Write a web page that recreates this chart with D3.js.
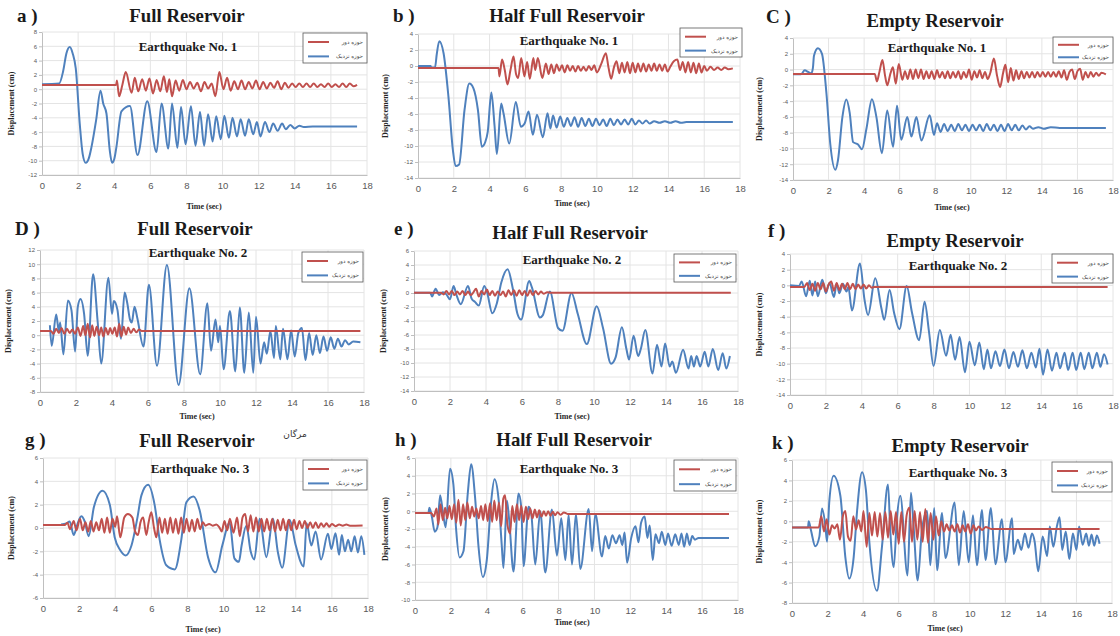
<!DOCTYPE html>
<html>
<head>
<meta charset="utf-8">
<script src="https://cdn.jsdelivr.net/npm/d3@7/dist/d3.min.js"></script>
<style>
  html, body { margin: 0; padding: 0; background: #ffffff; }
  svg { display: block; }
</style>
</head>
<body>
<svg id="chart" width="1120" height="636"></svg>
<script>
// Time axis ticks (s) shared by every panel
const timeTicks = [0, 2, 4, 6, 8, 10, 12, 14, 16, 18];
const seriesNames = ["حوزه دور", "حوزه نزدیک"];

// Displacement histories, [time (s), displacement (cm)]
// Earthquake No. 1
const farA = [[0,0.6],[4.1,0.6],[4.15,1.2],[4.27,-1.0],[4.45,0.6],[4.64,2.4],[4.96,-0.5],[5.14,1.6],[5.33,-0.3],[5.55,1.4],[5.75,-0.2],[5.95,1.5],[6.15,-0.6],[6.35,1.3],[6.55,-0.3],[6.75,1.8],[6.92,-0.4],[7.05,1.4],[7.2,-1.0],[7.4,1.2],[7.6,-0.2],[7.8,1.3],[8.0,0.0],[8.2,1.0],[8.4,0.1],[8.6,0.9],[8.8,-0.3],[9.0,1.0],[9.2,0.1],[9.4,0.8],[9.6,-1.0],[9.82,2.4],[10.05,0.0],[10.25,1.6],[10.45,-0.2],[10.65,1.1],[10.85,0.0],[11.05,1.2],[11.25,0.0],[11.45,1.0],[11.65,0.1],[11.85,1.2],[12.05,0.0],[12.25,1.0],[12.45,0.1],[12.65,0.9],[12.85,0.2],[13.05,1.1],[13.25,0.0],[13.45,0.9],[13.65,0.2],[13.85,0.8],[14.05,0.3],[14.25,0.8],[14.45,0.3],[14.65,0.8],[14.85,0.3],[15.05,0.8],[15.25,0.3],[15.45,0.7],[15.65,0.3],[15.85,0.8],[16.05,0.3],[16.25,0.7],[16.45,0.3],[16.65,0.8],[16.85,0.3],[17.05,0.8],[17.25,0.4],[17.45,0.6]];
const nearA = [[0,0.7],[0.95,0.8],[1.17,2.5],[1.35,5.0],[1.54,5.9],[1.7,5.0],[1.87,2.9],[2.09,-4.8],[2.25,-9.0],[2.42,-10.3],[2.6,-9.6],[2.74,-8.1],[3.0,-4.3],[3.24,-0.2],[3.39,-2.0],[3.57,-3.4],[3.75,-8.5],[3.88,-10.3],[4.0,-9.8],[4.12,-8.1],[4.4,-3.1],[4.87,-2.35],[5.29,-9.2],[5.83,-1.7],[6.34,-8.8],[6.62,-2.0],[7.0,-8.3],[7.2,-2.0],[7.5,-8.2],[7.7,-2.5],[7.95,-7.7],[8.25,-2.4],[8.5,-7.9],[8.75,-3.2],[8.98,-7.9],[9.2,-3.5],[9.45,-7.3],[9.65,-3.8],[9.9,-7.0],[10.1,-3.7],[10.35,-6.8],[10.55,-4.0],[10.8,-6.6],[11.0,-4.2],[11.25,-6.5],[11.45,-4.2],[11.7,-6.3],[11.9,-4.6],[12.1,-6.6],[12.35,-4.6],[12.6,-6.0],[12.8,-4.8],[13.05,-5.8],[13.3,-4.8],[13.5,-5.6],[13.75,-5.0],[14.0,-5.5],[14.25,-5.1],[14.5,-5.3],[15,-5.2],[17.45,-5.2]];
const farB = [[0,-0.25],[4.5,-0.25],[4.55,-1.3],[4.7,0.8],[4.85,-0.5],[5.0,-2.3],[5.17,-0.5],[5.34,1.2],[5.48,-1.0],[5.6,-1.5],[5.77,1.0],[5.95,-1.3],[6.1,0.5],[6.25,-1.6],[6.45,1.0],[6.55,-0.5],[6.7,1.0],[6.95,-1.5],[7.15,0.3],[7.3,-1.0],[7.45,0.2],[7.6,-0.9],[7.75,0.2],[7.9,-0.6],[8.05,0.1],[8.2,-0.8],[8.35,0.1],[8.5,-0.6],[8.65,0.0],[8.8,-0.7],[8.95,0.0],[9.1,-0.6],[9.25,-0.1],[9.4,-0.6],[9.55,0.0],[9.7,-0.5],[9.85,0.1],[10.0,-0.8],[10.25,0.3],[10.5,1.6],[10.65,-0.2],[10.8,-1.6],[10.95,-0.2],[11.1,0.6],[11.25,-0.9],[11.4,0.4],[11.55,-0.8],[11.7,0.5],[11.85,-0.9],[12.0,0.4],[12.15,-0.8],[12.3,0.3],[12.45,-0.7],[12.6,0.3],[12.75,-0.7],[12.9,0.2],[13.05,-0.6],[13.2,0.3],[13.35,-0.6],[13.5,0.2],[13.65,-0.6],[13.8,0.2],[13.95,-0.7],[14.1,-0.1],[14.3,0.6],[14.5,0.8],[14.65,-0.5],[14.8,0.5],[14.95,-0.8],[15.1,0.5],[15.25,-0.8],[15.4,0.4],[15.55,-0.9],[15.7,0.3],[15.85,-0.8],[16.0,0.0],[16.15,-0.6],[16.35,-0.1],[16.55,-0.5],[16.75,-0.2],[16.95,-0.5],[17.15,-0.2],[17.35,-0.4],[17.6,-0.3]];
const nearB = [[0,0],[0.7,0],[0.75,-0.2],[0.95,-0.2],[1.05,1.5],[1.19,3.1],[1.43,1.6],[1.7,-3.8],[1.95,-10.5],[2.1,-12.5],[2.3,-12.3],[2.6,-5.5],[2.87,-2.2],[3.1,-2.8],[3.35,-5.5],[3.57,-10.1],[3.76,-9.5],[3.9,-8.2],[4.1,-3.3],[4.28,-7.5],[4.41,-11.0],[4.65,-4.7],[4.78,-5.9],[5.1,-9.7],[5.47,-4.5],[5.75,-7.6],[5.96,-7.2],[6.18,-5.7],[6.42,-8.6],[6.65,-6.1],[6.98,-8.9],[7.24,-5.9],[7.4,-7.8],[7.55,-6.2],[7.75,-7.7],[7.95,-6.3],[8.15,-7.6],[8.35,-6.5],[8.55,-7.5],[8.75,-6.4],[8.95,-7.6],[9.15,-6.5],[9.35,-7.5],[9.55,-6.6],[9.75,-7.5],[9.95,-6.6],[10.15,-7.4],[10.35,-6.7],[10.55,-7.5],[10.75,-6.6],[10.95,-7.4],[11.15,-6.7],[11.35,-7.3],[11.55,-6.7],[11.75,-7.3],[11.95,-6.6],[12.15,-7.3],[12.35,-6.8],[12.55,-7.2],[12.75,-6.8],[12.95,-7.2],[13.2,-6.9],[13.5,-7.1],[13.8,-6.9],[14.1,-7.1],[14.4,-6.9],[14.7,-7.1],[15,-7.0],[17.6,-7.0]];
const farC = [[0,-0.55],[4.6,-0.55],[4.72,-1.5],[4.87,-0.2],[5.03,1.2],[5.18,-0.8],[5.3,-2.0],[5.48,-0.5],[5.62,0.3],[5.78,-1.8],[5.95,0.7],[6.15,-1.3],[6.3,-0.2],[6.45,-1.2],[6.6,0.0],[6.75,-1.2],[6.9,0.0],[7.05,-1.1],[7.2,0.0],[7.35,-1.2],[7.5,-0.2],[7.65,-1.1],[7.8,-0.2],[7.95,-1.2],[8.1,-0.1],[8.25,-1.0],[8.4,-0.3],[8.55,-1.1],[8.7,-0.2],[8.85,-1.1],[9.0,-0.3],[9.15,-1.0],[9.3,-0.2],[9.45,-1.2],[9.6,-0.3],[9.75,-1.0],[9.9,0.0],[10.05,-1.3],[10.2,-0.2],[10.35,-1.0],[10.5,-0.1],[10.65,-1.1],[10.8,-0.3],[10.95,-1.2],[11.1,-0.4],[11.3,1.4],[11.48,-0.8],[11.65,-2.2],[11.82,-0.4],[11.95,0.6],[12.1,-1.6],[12.25,0.2],[12.4,-1.4],[12.55,-0.1],[12.7,-1.2],[12.85,-0.2],[13.0,-1.1],[13.15,-0.3],[13.3,-1.0],[13.45,-0.3],[13.6,-1.0],[13.75,-0.3],[13.9,-0.9],[14.05,-0.3],[14.2,-0.9],[14.35,-0.3],[14.5,-0.9],[14.65,-0.3],[14.8,-0.9],[14.95,-0.2],[15.1,-1.0],[15.25,-0.1],[15.4,-1.3],[15.55,-0.3],[15.7,0.0],[15.85,-1.2],[16.0,-0.2],[16.15,0.1],[16.3,-1.3],[16.45,-0.3],[16.6,-1.0],[16.75,-0.3],[16.9,-0.9],[17.05,-0.4],[17.2,-0.8],[17.35,-0.4],[17.6,-0.6]];
const nearC = [[0,-0.6],[0.45,-0.6],[0.66,-0.1],[0.85,-0.3],[1.03,-0.5],[1.12,0.2],[1.18,1.75],[1.4,2.7],[1.63,2.0],[1.88,-3.0],[2.1,-9.5],[2.38,-12.7],[2.53,-11.5],[2.78,-6.0],[3.0,-3.8],[3.19,-5.5],[3.38,-9.2],[3.66,-9.5],[3.88,-10.1],[4.13,-7.5],[4.44,-3.75],[4.69,-6.0],[5.0,-10.6],[5.3,-5.2],[5.63,-9.8],[5.85,-4.6],[6.09,-8.9],[6.43,-6.0],[6.66,-8.5],[6.94,-6.0],[7.22,-9.0],[7.69,-5.8],[7.93,-8.3],[8.1,-6.8],[8.3,-7.9],[8.5,-6.9],[8.7,-7.8],[8.9,-7.0],[9.1,-7.8],[9.3,-6.9],[9.5,-7.7],[9.7,-7.0],[9.9,-7.8],[10.1,-7.0],[10.3,-7.7],[10.5,-7.0],[10.7,-7.8],[10.9,-6.9],[11.1,-7.7],[11.3,-7.0],[11.5,-7.8],[11.7,-7.0],[11.9,-7.8],[12.1,-6.9],[12.3,-7.7],[12.5,-7.0],[12.7,-7.7],[12.9,-7.1],[13.1,-7.6],[13.3,-7.2],[13.5,-7.5],[13.8,-7.3],[14.1,-7.5],[14.5,-7.3],[15,-7.4],[17.6,-7.4]];

// Earthquake No. 2
const farD = [[0,0.6],[0.6,0.6],[0.75,0.2],[0.9,0.9],[1.05,0.3],[1.2,1.0],[1.35,0.2],[1.5,0.9],[1.65,0.3],[1.8,0.8],[1.95,0.2],[2.1,1.1],[2.25,-0.1],[2.4,1.3],[2.52,0.0],[2.65,1.6],[2.78,-0.3],[2.9,1.4],[3.02,-0.1],[3.15,1.2],[3.28,0.0],[3.4,1.1],[3.52,-0.2],[3.65,1.0],[3.78,0.1],[3.9,1.0],[4.02,0.2],[4.15,1.1],[4.28,-0.2],[4.4,1.6],[4.52,-0.2],[4.65,1.2],[4.78,0.1],[4.9,1.1],[5.05,0.3],[5.2,0.9],[5.35,0.4],[5.5,0.8],[5.65,0.6],[17.8,0.6]];
const nearD = [[0.55,1.4],[0.65,-1.5],[0.9,2.9],[1.05,0.5],[1.12,1.8],[1.3,-2.7],[1.55,4.9],[1.75,3.5],[1.95,-2.3],[2.1,4.0],[2.25,5.1],[2.45,3.0],[2.65,-2.9],[2.95,8.6],[3.2,2.0],[3.4,-4.0],[3.8,8.1],[4.0,3.0],[4.1,4.8],[4.3,3.6],[4.5,-0.5],[4.7,6.0],[4.85,4.5],[5.0,2.2],[5.1,1.8],[5.25,4.0],[5.4,2.5],[5.75,-1.6],[6.05,7.1],[6.5,-4.3],[7.05,9.9],[7.7,-7.0],[8.3,6.6],[8.9,-5.5],[9.3,4.5],[9.5,-2.2],[9.75,2.2],[9.9,-1.0],[10.0,1.3],[10.2,-4.8],[10.55,3.4],[10.85,-5.1],[11.1,3.9],[11.35,-5.3],[11.6,3.2],[11.85,-5.3],[12.0,2.6],[12.25,-4.0],[12.45,-1.0],[12.6,-2.6],[12.8,0.6],[13.0,-3.2],[13.1,1.3],[13.35,-3.4],[13.5,0.9],[13.75,-3.4],[13.95,0.7],[14.15,-3.0],[14.35,0.3],[14.55,1.0],[14.75,-3.5],[14.95,0.3],[15.15,-2.8],[15.35,0.0],[15.55,-2.5],[15.75,-0.2],[15.95,-2.2],[16.15,-0.3],[16.35,-1.9],[16.55,-0.5],[16.75,-1.6],[16.95,-0.7],[17.15,-1.3],[17.4,-0.9],[17.8,-1.0]];
const farE = [[0,0.05],[1.5,0.05],[1.65,-0.2],[1.8,0.3],[1.95,-0.2],[2.1,0.3],[2.25,-0.3],[2.4,0.2],[2.55,-0.2],[2.7,0.3],[2.85,-0.3],[3.0,0.2],[3.15,-0.3],[3.3,0.1],[3.45,0.6],[3.6,-0.5],[3.75,0.3],[3.9,-0.2],[4.05,0.5],[4.2,-0.3],[4.35,0.3],[4.5,-0.4],[4.65,0.2],[4.8,-0.3],[4.95,0.2],[5.1,-0.5],[5.25,0.4],[5.4,-0.3],[5.55,0.4],[5.7,-0.4],[5.85,0.4],[6.0,-0.3],[6.15,0.3],[6.3,-0.4],[6.45,0.4],[6.6,-0.3],[6.75,0.3],[6.9,-0.2],[7.05,0.2],[7.2,-0.1],[7.4,0.1],[7.6,0.05],[17.6,0.05]];
const nearE = [[0,0.05],[0.9,0.05],[1.0,-0.5],[1.2,0.6],[1.4,-0.3],[1.6,0.1],[1.8,-0.2],[2.0,-0.9],[2.2,1.0],[2.35,-0.2],[2.6,-1.6],[3.0,1.0],[3.2,-0.8],[3.4,-1.3],[3.6,-1.8],[3.9,1.0],[4.05,0.2],[4.35,-2.9],[4.6,-1.5],[4.85,1.5],[5.2,3.4],[5.5,0.5],[5.75,-3.0],[5.95,-3.8],[6.4,1.7],[6.55,0.8],[7.0,-3.5],[7.15,-3.2],[7.55,0.2],[8.0,-5.0],[8.25,-5.4],[8.75,0.0],[9.1,-3.0],[9.6,-7.3],[10.15,-1.9],[10.5,-5.0],[10.95,-10.1],[11.2,-9.2],[11.55,-4.9],[11.8,-8.0],[11.95,-9.5],[12.2,-6.1],[12.45,-9.0],[12.6,-8.0],[12.85,-5.3],[13.25,-11.5],[13.5,-7.4],[13.75,-10.5],[13.95,-7.2],[14.2,-10.5],[14.35,-9.8],[14.55,-11.4],[14.95,-8.1],[15.25,-10.8],[15.4,-9.0],[15.55,-10.5],[15.7,-9.0],[15.9,-10.5],[16.15,-8.4],[16.35,-10.5],[16.6,-8.0],[16.9,-11.0],[17.15,-8.6],[17.35,-10.8],[17.55,-9.0]];
const farF = [[0,-0.2],[0.8,-0.2],[0.95,0.3],[1.1,-0.6],[1.25,0.2],[1.4,-0.7],[1.55,0.3],[1.7,-0.5],[1.85,0.3],[2.0,-0.8],[2.15,0.1],[2.3,0.5],[2.45,-0.7],[2.6,0.3],[2.75,-0.6],[2.9,0.2],[3.05,-0.5],[3.2,0.3],[3.35,-0.5],[3.5,0.2],[3.65,-0.5],[3.8,0.1],[3.95,-0.4],[4.1,0.1],[4.25,-0.4],[4.4,0.0],[4.55,-0.3],[4.7,-0.2],[17.7,-0.2]];
const nearF = [[0,0],[0.5,-0.1],[0.65,0.5],[0.9,-1.4],[1.1,0.6],[1.25,-1.3],[1.4,0.5],[1.55,-1.4],[1.8,0.7],[2.0,-1.0],[2.2,0.3],[2.45,-1.5],[2.6,0.2],[2.75,-1.0],[2.95,0.2],[3.15,-0.8],[3.25,-0.2],[3.45,-3.2],[3.9,2.8],[4.15,-1.8],[4.35,-3.8],[4.75,0.9],[5.1,-3.0],[5.25,-4.4],[5.55,-0.6],[5.8,-3.5],[6.1,-5.6],[6.5,-0.1],[6.8,-3.5],[7.2,-7.0],[7.5,-2.1],[7.75,-6.0],[8.0,-10.3],[8.35,-5.7],[8.7,-9.0],[8.95,-6.3],[9.2,-9.5],[9.45,-6.6],[9.75,-11.1],[10.0,-7.2],[10.3,-10.2],[10.55,-7.3],[10.8,-10.7],[11.0,-8.2],[11.2,-10.6],[11.45,-8.4],[11.7,-10.3],[11.95,-8.2],[12.2,-10.6],[12.45,-8.5],[12.7,-10.4],[12.95,-8.3],[13.2,-10.6],[13.45,-8.6],[13.7,-10.5],[13.9,-8.1],[14.1,-11.4],[14.35,-8.2],[14.6,-10.9],[14.85,-8.6],[15.05,-10.6],[15.3,-8.6],[15.5,-10.8],[15.75,-8.6],[15.95,-10.8],[16.2,-8.6],[16.4,-10.7],[16.65,-8.6],[16.85,-10.6],[17.1,-8.6],[17.3,-10.4],[17.5,-8.8],[17.7,-10.1]];

// Earthquake No. 3
const farG = [[0,0.25],[1.2,0.25],[1.35,0.45],[1.5,-0.1],[1.7,0.6],[1.85,-0.2],[2.05,0.8],[2.2,-0.2],[2.35,0.5],[2.5,-0.3],[2.65,0.6],[2.8,-0.3],[2.95,0.5],[3.1,-0.2],[3.25,0.8],[3.4,-0.4],[3.55,0.9],[3.7,-0.4],[3.85,0.8],[4.0,0.1],[4.1,1.0],[4.28,-0.8],[4.5,0.9],[4.7,1.2],[4.95,0.9],[5.1,-0.3],[5.26,-0.6],[5.4,0.5],[5.55,0.9],[5.72,-0.6],[5.85,0.5],[6.0,1.35],[6.15,0.0],[6.28,-0.8],[6.45,0.9],[6.6,-0.4],[6.75,0.8],[6.9,-0.5],[7.05,0.9],[7.2,-0.4],[7.35,0.8],[7.5,-0.5],[7.65,0.9],[7.8,-0.4],[7.95,0.8],[8.1,-0.3],[8.25,0.7],[8.4,-0.3],[8.55,0.8],[8.7,-0.1],[8.85,0.5],[9.0,0.2],[9.2,0.35],[9.4,0.2],[9.6,0.3],[9.75,0.1],[9.9,-0.3],[10.05,0.6],[10.2,-0.2],[10.35,0.8],[10.55,-0.4],[10.75,0.9],[10.9,-0.7],[11.05,0.9],[11.2,1.2],[11.35,-0.3],[11.5,1.1],[11.65,-0.3],[11.8,0.9],[11.95,-0.3],[12.1,0.8],[12.25,-0.3],[12.4,0.8],[12.55,-0.2],[12.7,0.8],[12.85,-0.3],[13.0,0.7],[13.15,-0.2],[13.3,0.8],[13.45,-0.2],[13.6,0.7],[13.75,-0.2],[13.9,0.7],[14.05,-0.1],[14.2,0.6],[14.35,0.0],[14.5,0.6],[14.65,0.0],[14.8,0.5],[14.95,0.0],[15.1,0.5],[15.25,0.0],[15.4,0.4],[15.55,0.1],[15.7,0.4],[15.85,0.1],[16.0,0.35],[16.2,0.15],[16.4,0.3],[16.6,0.2],[16.8,0.3],[17.0,0.2],[17.7,0.22]];
const nearG = [[1.0,0.3],[1.3,0.4],[1.48,0.55],[1.7,-0.6],[1.9,0.3],[2.12,1.0],[2.3,0.6],[2.53,-0.7],[2.82,1.8],[3.3,3.2],[3.7,2.0],[3.97,-0.8],[4.28,-1.9],[4.58,-2.35],[4.9,-1.5],[5.22,0.8],[5.45,2.8],[5.82,3.7],[6.18,2.0],[6.46,-1.0],[6.83,-3.2],[7.3,-3.55],[7.66,-1.0],[7.94,2.2],[8.34,2.7],[8.68,1.5],[9.14,-2.5],[9.56,-3.8],[9.93,-1.5],[10.34,0.45],[10.6,-2.6],[10.85,-2.9],[11.0,-1.5],[11.26,0.2],[11.5,-2.0],[11.7,-2.7],[12.0,0.8],[12.37,-2.5],[12.74,0.8],[13.0,-2.0],[13.25,-3.4],[13.66,0.7],[14.0,-1.5],[14.44,-3.3],[14.6,0.4],[14.86,-1.5],[15.1,-0.3],[15.4,-2.7],[15.78,-0.5],[15.97,-1.8],[16.2,-0.45],[16.4,-2.3],[16.55,-0.6],[16.72,-2.0],[16.9,-1.0],[17.07,-2.0],[17.26,-0.7],[17.44,-2.1],[17.63,-0.7],[17.8,-2.3]];
const farH = [[0,-0.2],[0.9,-0.2],[1.05,-0.6],[1.2,0.3],[1.3,-1.5],[1.42,0.8],[1.55,-1.0],[1.68,0.4],[1.8,-0.8],[1.92,0.6],[2.05,-0.9],[2.18,0.8],[2.3,-1.3],[2.42,1.3],[2.55,-1.6],[2.68,0.8],[2.8,-1.0],[2.92,1.0],[3.05,-0.8],[3.18,0.5],[3.3,-0.6],[3.42,0.3],[3.55,-0.8],[3.68,0.6],[3.8,-1.0],[3.92,0.8],[4.05,-1.1],[4.18,0.9],[4.3,-1.2],[4.42,1.2],[4.55,-1.0],[4.68,1.0],[4.8,-1.7],[4.92,1.4],[5.02,1.8],[5.15,-1.5],[5.3,-2.5],[5.42,0.6],[5.55,-1.2],[5.68,0.8],[5.8,-1.0],[5.92,0.6],[6.05,-1.2],[6.18,0.5],[6.3,-0.9],[6.42,0.3],[6.55,-0.8],[6.68,0.2],[6.8,-0.7],[6.92,0.1],[7.05,-0.6],[7.18,0.0],[7.3,-0.5],[7.42,0.0],[7.55,-0.5],[7.68,-0.05],[7.8,-0.45],[7.95,-0.1],[8.1,-0.4],[8.3,-0.15],[8.5,-0.3],[17.5,-0.3]];
const nearH = [[0,-0.2],[0.75,-0.2],[0.8,0.4],[0.93,-0.5],[1.1,-2.3],[1.25,-1.8],[1.4,1.8],[1.58,-0.5],[1.71,-1.8],[1.95,4.8],[2.14,3.0],[2.29,-2.0],[2.48,-5.2],[2.7,-4.5],[2.94,2.0],[3.13,5.3],[3.35,1.5],[3.54,-4.0],[3.78,-7.4],[4.0,-5.5],[4.24,1.0],[4.43,3.6],[4.65,1.5],[4.84,-4.0],[4.93,-6.4],[5.12,1.2],[5.25,-1.0],[5.49,-6.8],[5.77,2.0],[5.92,0.5],[6.05,-6.2],[6.33,0.5],[6.48,-0.3],[6.7,-6.0],[6.98,0.0],[7.26,-6.9],[7.63,0.2],[7.91,-5.0],[8.15,-0.8],[8.38,-5.5],[8.56,-0.4],[8.75,-6.0],[8.97,-0.3],[9.21,-6.5],[9.68,0.25],[9.87,-4.5],[10.05,-0.3],[10.42,-5.1],[10.6,-2.8],[10.8,-4.2],[11.0,-2.7],[11.2,-3.6],[11.4,-2.7],[11.55,-3.8],[11.68,-2.4],[11.82,-5.8],[12.05,-3.0],[12.29,-1.7],[12.45,-3.5],[12.6,-1.3],[12.8,-0.6],[12.95,-3.0],[13.08,-1.6],[13.25,-5.5],[13.4,-2.6],[13.6,-3.6],[13.75,-2.3],[13.95,-3.8],[14.1,-2.5],[14.3,-3.9],[14.5,-2.6],[14.7,-3.8],[14.85,-2.5],[15.0,-4.0],[15.15,-2.5],[15.3,-3.8],[15.45,-2.8],[15.6,-3.2],[15.8,-3.0],[17.5,-3.0]];
const farK = [[0,-0.6],[1.5,-0.6],[1.65,0.5],[1.8,-1.0],[1.95,0.2],[2.1,-1.3],[2.25,-0.4],[2.4,-0.7],[2.55,-0.3],[2.7,-1.8],[2.85,0.4],[3.0,1.0],[3.15,-1.5],[3.3,-1.9],[3.45,0.5],[3.6,-0.8],[3.75,0.1],[3.9,-1.0],[4.02,1.0],[4.2,-2.5],[4.35,0.8],[4.5,-1.4],[4.65,0.9],[4.8,-1.5],[4.95,0.8],[5.1,-1.8],[5.25,0.9],[5.4,-1.6],[5.55,1.0],[5.7,-1.3],[5.85,0.9],[6.0,-2.2],[6.15,0.9],[6.3,-2.0],[6.45,0.6],[6.6,1.35],[6.75,-2.0],[6.9,1.0],[7.05,-1.8],[7.2,0.9],[7.35,-2.0],[7.5,1.2],[7.65,-2.1],[7.8,0.8],[7.95,-1.8],[8.1,0.5],[8.25,-1.4],[8.4,0.0],[8.55,-1.0],[8.7,-0.3],[8.85,-0.9],[9.0,-0.4],[9.15,-1.0],[9.3,-0.3],[9.45,-1.1],[9.6,-0.4],[9.75,-1.0],[9.9,-0.3],[10.05,-1.2],[10.2,-0.4],[10.35,-0.9],[10.5,-0.5],[10.7,-0.85],[10.9,-0.55],[11.2,-0.75],[17.3,-0.75]];
const nearK = [[0,-0.6],[0.9,-0.6],[0.94,0.0],[1.07,-0.9],[1.31,-2.45],[1.54,-1.5],[1.69,1.25],[1.88,-0.5],[1.97,-2.0],[2.1,2.0],[2.34,4.45],[2.72,2.5],[3.0,-3.5],[3.22,-5.6],[3.47,-3.5],[3.66,1.0],[3.94,4.8],[4.16,3.0],[4.35,-2.0],[4.78,-6.8],[5.06,-2.5],[5.4,3.6],[5.53,-1.0],[5.72,-4.5],[5.9,0.3],[6.09,2.5],[6.5,-5.3],[6.69,2.8],[6.84,-0.5],[7.07,-5.8],[7.3,-1.0],[7.6,1.0],[7.78,-4.3],[8.0,1.3],[8.16,-4.8],[8.44,0.8],[8.63,-3.6],[9.15,1.85],[9.38,-4.3],[9.66,1.0],[9.94,-4.0],[10.18,0.6],[10.4,-4.3],[10.69,1.1],[10.88,-3.8],[11.19,1.3],[11.44,-4.2],[11.81,0.2],[12.0,-4.0],[12.38,0.3],[12.47,-3.2],[12.7,-1.8],[12.9,-2.8],[13.1,-1.2],[13.3,-2.6],[13.5,-1.2],[13.65,-2.0],[13.85,-4.9],[14.1,-1.5],[14.35,-3.4],[14.5,-0.5],[14.7,-2.5],[14.9,-0.5],[15.05,0.4],[15.2,-2.8],[15.4,-1.0],[15.6,-3.7],[15.8,-1.2],[16.0,-2.8],[16.15,-0.5],[16.35,-2.3],[16.55,-1.2],[16.7,-2.4],[16.85,-1.3],[17.0,-2.4],[17.15,-1.4],[17.3,-2.2]];

// Panel layout: plot box [left, top, right, bottom] and label anchors
const panels = [
  {letter:"a )", title:"Full Reservoir", quake:"Earthquake No. 1", far:farA, near:nearA, y:[-12,8],
   box:[42,32,367,175], letterAt:[17,22], titleAt:[187,22], quakeAt:[188,51], legend:[303,33,64,30], xTitleAt:[204,209], yTitleX:14},
  {letter:"b )", title:"Half Full Reservoir", quake:"Earthquake No. 1", far:farB, near:nearB, y:[-14,4],
   box:[418,34,740,178], letterAt:[393,22], titleAt:[567,22], quakeAt:[569,45], legend:[680,28,62,29], xTitleAt:[572,206], yTitleX:388},
  {letter:"C )", title:"Empty Reservoir", quake:"Earthquake No. 1", far:farC, near:nearC, y:[-14,4],
   box:[793,38,1113,180], letterAt:[766,23], titleAt:[935,27], quakeAt:[937,52], legend:[1053,37,60,26], xTitleAt:[952,210], yTitleX:762},
  {letter:"D )", title:"Full Reservoir", quake:"Earthquake No. 2", far:farD, near:nearD, y:[-8,12],
   box:[40,250,364,392], letterAt:[15,235], titleAt:[195,235], quakeAt:[198,257], legend:[302,252,61,30], xTitleAt:[197,419], yTitleX:11},
  {letter:"e )", title:"Half Full Reservoir", quake:"Earthquake No. 2", far:farE, near:nearE, y:[-14,6],
   box:[414,251,738,391], letterAt:[394,235], titleAt:[570,239], quakeAt:[572,264], legend:[674,254,62,28], xTitleAt:[572,419], yTitleX:386},
  {letter:"f )", title:"Empty Reservoir", quake:"Earthquake No. 2", far:farF, near:nearF, y:[-14,4],
   box:[790,254,1113,395], letterAt:[768,237], titleAt:[955,247], quakeAt:[958,270], legend:[1052,254,61,29], xTitleAt:null, yTitleX:762},
  {letter:"g )", title:"Full Reservoir", quake:"Earthquake No. 3", far:farG, near:nearG, y:[-6,6],
   box:[43,458,368,598], letterAt:[25,446], titleAt:[197,447], quakeAt:[200,473], legend:[303,460,64,30], xTitleAt:[203,632], yTitleX:14},
  {letter:"h )", title:"Half Full Reservoir", quake:"Earthquake No. 3", far:farH, near:nearH, y:[-10,6],
   box:[415,458,738,600], letterAt:[395,446], titleAt:[574,446], quakeAt:[569,473], legend:[674,460,62,31], xTitleAt:[572,625], yTitleX:388},
  {letter:"k )", title:"Empty Reservoir", quake:"Earthquake No. 3", far:farK, near:nearK, y:[-8,6],
   box:[792,460,1112,603], letterAt:[772,449], titleAt:[960,452], quakeAt:[958,477], legend:[1052,462,60,30], xTitleAt:[945,631], yTitleX:762}
];

const COLORS = { far: "#c0504d", near: "#4f81bd" };
const SERIF = "'Liberation Serif', 'Times New Roman', serif";
const SANS = "'Liberation Sans', Arial, sans-serif";

const svg = d3.select("#chart");

panels.forEach((p, i) => {
  const [x0, y0, x1, y1] = p.box;
  const x = d3.scaleLinear().domain([0, 18]).range([x0, x1]);
  const y = d3.scaleLinear().domain(p.y).range([y1, y0]);
  const yTicks = d3.range(p.y[0], p.y[1] + 0.001, 2);
  const g = svg.append("g");

  // grid
  g.append("g").selectAll("line.h").data(yTicks).join("line")
    .attr("x1", x0).attr("x2", x1).attr("y1", d => y(d)).attr("y2", d => y(d))
    .attr("stroke", "#e4e4e4").attr("stroke-width", 1);
  g.append("g").selectAll("line.v").data(timeTicks.slice(1)).join("line")
    .attr("x1", d => x(d)).attr("x2", d => x(d)).attr("y1", y0).attr("y2", y1)
    .attr("stroke", "#e4e4e4").attr("stroke-width", 1);

  // axes
  const yAxis = d3.axisLeft(y).tickValues(yTicks).tickSize(3).tickSizeOuter(0).tickFormat(d => String(d));
  const ya = g.append("g").attr("transform", `translate(${x0},0)`).call(yAxis);
  ya.select(".domain").attr("stroke", "#bfbfbf");
  ya.selectAll(".tick line").attr("stroke", "#bfbfbf");
  ya.selectAll("text").attr("font-family", SANS).attr("font-size", 6).attr("fill", "#595959").attr("x", -5);

  const xAxis = d3.axisBottom(x).tickValues(timeTicks).tickSize(0).tickSizeOuter(0).tickPadding(7).tickFormat(d => String(d));
  const xa = g.append("g").attr("transform", `translate(0,${y1})`).call(xAxis);
  xa.select(".domain").attr("stroke", "#bfbfbf");
  xa.selectAll("text").attr("font-family", SANS).attr("font-size", 9.5).attr("fill", "#595959");

  // series
  const clipId = "clip" + i;
  g.append("clipPath").attr("id", clipId).append("rect")
    .attr("x", x0).attr("y", y0 - 2).attr("width", x1 - x0).attr("height", y1 - y0 + 4);
  const line = d3.line().x(d => x(d[0])).y(d => y(d[1])).curve(d3.curveMonotoneX);
  const lines = g.append("g").attr("clip-path", `url(#${clipId})`);
  lines.append("path").datum(p.near).attr("d", line)
    .attr("fill", "none").attr("stroke", COLORS.near).attr("stroke-width", 2).attr("stroke-linejoin", "round");
  lines.append("path").datum(p.far).attr("d", line)
    .attr("fill", "none").attr("stroke", COLORS.far).attr("stroke-width", 2).attr("stroke-linejoin", "round");

  // legend
  const [lx, ly, lw, lh] = p.legend;
  const lg = g.append("g");
  lg.append("rect").attr("x", lx).attr("y", ly).attr("width", lw).attr("height", lh)
    .attr("fill", "#ffffff").attr("stroke", "#595959").attr("stroke-width", 0.8);
  [["far", 0.3], ["near", 0.78]].forEach(([key, f], k) => {
    const yy = ly + lh * f;
    lg.append("line").attr("x1", lx + 5).attr("x2", lx + 26).attr("y1", yy).attr("y2", yy)
      .attr("stroke", COLORS[key]).attr("stroke-width", 2);
    lg.append("text").attr("x", lx + lw - 4).attr("y", yy + 2).attr("text-anchor", "end")
      .attr("font-family", "'DejaVu Sans', sans-serif").attr("font-size", 5.5).attr("fill", "#404040")
      .text(seriesNames[k]);
  });

  // titles
  g.append("text").attr("x", p.letterAt[0]).attr("y", p.letterAt[1])
    .attr("font-family", SERIF).attr("font-weight", "bold").attr("font-size", 19).attr("fill", "#1a1a1a")
    .text(p.letter);
  g.append("text").attr("x", p.titleAt[0]).attr("y", p.titleAt[1]).attr("text-anchor", "middle")
    .attr("font-family", SERIF).attr("font-weight", "bold").attr("font-size", 18.8).attr("fill", "#1a1a1a")
    .text(p.title);
  g.append("text").attr("x", p.quakeAt[0]).attr("y", p.quakeAt[1]).attr("text-anchor", "middle")
    .attr("font-family", SERIF).attr("font-weight", "bold").attr("font-size", 13).attr("fill", "#1a1a1a")
    .text(p.quake);
  if (p.xTitleAt) {
    g.append("text").attr("x", p.xTitleAt[0]).attr("y", p.xTitleAt[1]).attr("text-anchor", "middle")
      .attr("font-family", SERIF).attr("font-weight", "bold").attr("font-size", 8).attr("fill", "#262626")
      .text("Time (sec)");
  }
  g.append("text")
    .attr("transform", `translate(${p.yTitleX},${(y0 + y1) / 2}) rotate(-90)`)
    .attr("text-anchor", "middle")
    .attr("font-family", SERIF).attr("font-weight", "bold").attr("font-size", 8).attr("fill", "#262626")
    .text("Displacement (cm)");
});

// stray caption between the lower panels
svg.append("text").attr("x", 295).attr("y", 437).attr("text-anchor", "middle")
  .attr("font-family", "'DejaVu Sans', sans-serif").attr("font-size", 9).attr("fill", "#333333")
  .text("مرگان");
</script>
</body>
</html>
